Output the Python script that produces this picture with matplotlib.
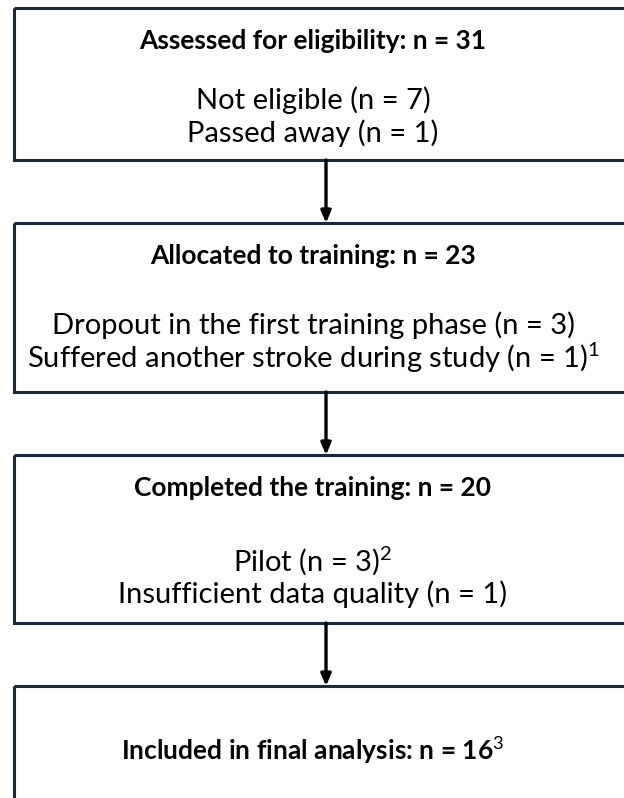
import matplotlib.pyplot as plt
from matplotlib.patches import Rectangle

plt.rcParams['mathtext.fontset'] = 'custom'
plt.rcParams['mathtext.rm'] = 'Lato'
plt.rcParams['mathtext.it'] = 'Lato'
plt.rcParams['mathtext.bf'] = 'Lato:bold'

# ===== flow chart content =====
titles = ['Assessed for eligibility: n = 31',
          'Allocated to training: n = 23',
          'Completed the training: n = 20',
          'Included in final analysis: n = 16$^{3}$']
details = [['Not eligible (n = 7)', 'Passed away (n = 1)'],
           ['Dropout in the first training phase (n = 3)',
            'Suffered another stroke during study (n = 1)$^{1}$'],
           ['Pilot (n = 3)$^{2}$', 'Insufficient data quality (n = 1)'],
           []]

# ===== layout (pixels) =====
W, H = 624, 798
box_top = [8, 223, 455, 686]
box_bot = [160, 392, 623, 830]
box_left, box_right = 14, 640
xc = 313       # text centre
xa = 326       # arrow x
edge = '#1b2a38'
detail_off = [60, 67, 62]   # first detail line above box bottom

fig = plt.figure(figsize=(W/100, H/100), dpi=100)
ax = fig.add_axes([0, 0, 1, 1])
ax.set_xlim(0, W)
ax.set_ylim(H, 0)
ax.axis('off')

for i in range(len(titles)):
    t, b = box_top[i], box_bot[i]
    ax.add_patch(Rectangle((box_left, t), box_right-box_left, b-t,
                           fill=False, ec=edge, lw=2.2, clip_on=False))
    if details[i]:
        ax.text(xc, t+33, titles[i], ha='center', va='center',
                fontsize=19, fontweight='bold', family='Lato')
        y0 = b - detail_off[i]
        for k, line in enumerate(details[i]):
            ax.text(xc, y0 + k*33, line, ha='center', va='center',
                    fontsize=21, family='Lato')
    else:
        ax.text(xc, t+64, titles[i], ha='center', va='center',
                fontsize=19, fontweight='bold', family='Lato')
    if i < len(titles)-1:
        ax.annotate('', xy=(xa, box_top[i+1]), xytext=(xa, b),
                    arrowprops=dict(arrowstyle='-|>,head_length=0.7,head_width=0.3',
                                    lw=2.4, color='black',
                                    shrinkA=0, shrinkB=0))

fig.savefig('out.png', dpi=100)
